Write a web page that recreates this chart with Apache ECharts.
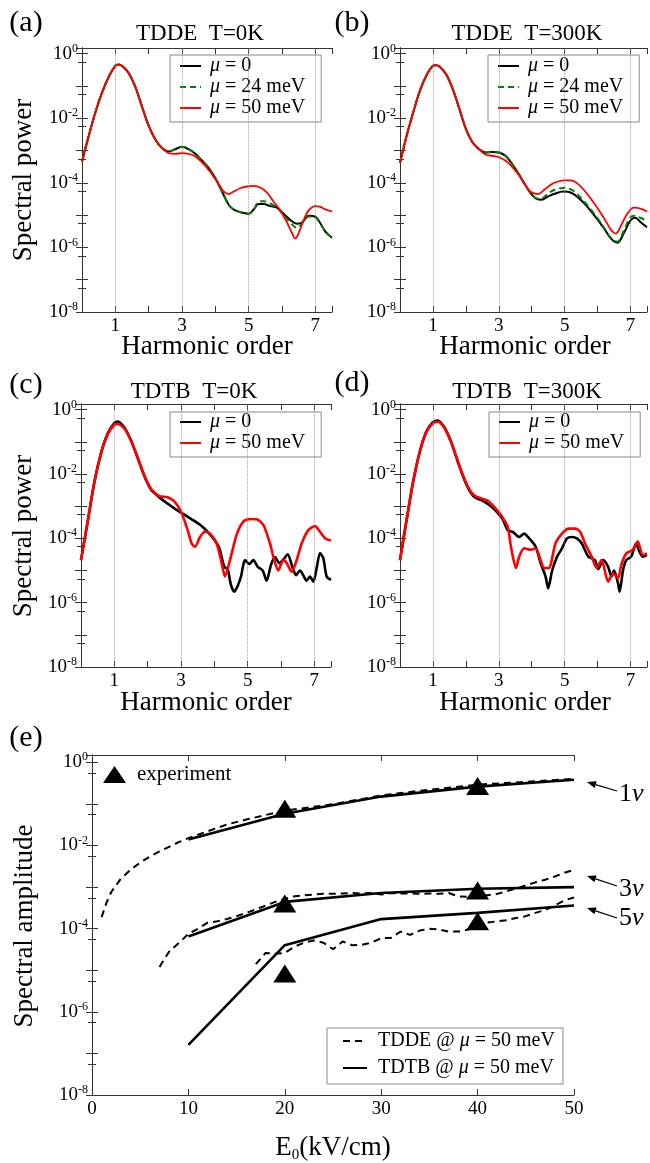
<!DOCTYPE html>
<html>
<head>
<meta charset="utf-8">
<script src="https://cdn.jsdelivr.net/npm/echarts@6/dist/echarts.min.js"></script>
<style>
  html, body { margin: 0; padding: 0; background: #fff; }
  #chart { width: 650px; height: 1163px; }
</style>
</head>
<body>
<div id="chart"></div>
<script>
const SERIF = 'Liberation Serif';

// ---- (a) TDDE T=0K
const aX0 = [0,0.2,0.4,0.6,0.8,1.0,1.1,1.2,1.4,1.6,1.8,2.0,2.2,2.4,2.6,2.8,3.0,3.2,3.4,3.6,3.8,4.0,4.2,4.35,4.45,4.6,4.8,5.0,5.15,5.3,5.45,5.65,5.85,6.05,6.25,6.45,6.6,6.8,7.0,7.15,7.3,7.5];
const aMu0 = [4.6e-4,2.8e-3,1.5e-2,6.2e-2,0.19,0.42,0.46,0.42,0.25,9.3e-2,2.3e-2,5.9e-3,2.2e-3,1.2e-3,9.4e-4,1.1e-3,1.3e-3,1.1e-3,7.9e-4,4.9e-4,2.9e-4,1.4e-4,5.4e-5,2.6e-5,1.8e-5,1.4e-5,1.2e-5,1.1e-5,1.5e-5,2.2e-5,2.2e-5,1.9e-5,1.7e-5,1.1e-5,7.1e-6,5.4e-6,5.9e-6,9.5e-6,8.9e-6,5.6e-6,3.1e-6,2.0e-6];
const aMu24 = [4.6e-4,2.8e-3,1.5e-2,6.2e-2,0.19,0.42,0.46,0.42,0.25,9.3e-2,2.3e-2,5.9e-3,2.2e-3,1.2e-3,9.4e-4,1.1e-3,1.3e-3,1.1e-3,7.9e-4,4.9e-4,2.9e-4,1.4e-4,5.4e-5,2.6e-5,1.8e-5,1.4e-5,1.2e-5,1.1e-5,1.5e-5,2.6e-5,2.7e-5,2.3e-5,1.7e-5,1.0e-5,5.9e-6,4.0e-6,5.4e-6,9.0e-6,8.5e-6,5.4e-6,3.1e-6,2.0e-6];
const aX50 = [0,0.2,0.4,0.6,0.8,1.0,1.1,1.2,1.4,1.6,1.8,2.0,2.2,2.4,2.6,2.8,3.0,3.2,3.4,3.6,3.8,4.0,4.15,4.25,4.4,4.55,4.75,4.95,5.15,5.35,5.55,5.75,5.95,6.15,6.3,6.4,6.5,6.65,6.8,7.0,7.15,7.3,7.5];
const aMu50 = [4.6e-4,2.8e-3,1.5e-2,6.2e-2,0.19,0.42,0.46,0.42,0.25,9.3e-2,2.3e-2,5.9e-3,2.2e-3,1.2e-3,8.3e-4,7.9e-4,8.3e-4,7.9e-4,6.6e-4,4.3e-4,2.5e-4,1.3e-4,7.7e-5,5.4e-5,4.5e-5,5.4e-5,6.8e-5,7.7e-5,8.1e-5,7.2e-5,5.0e-5,2.6e-5,1.4e-5,5.9e-6,2.8e-6,1.9e-6,2.8e-6,7.1e-6,1.4e-5,1.9e-5,1.8e-5,1.5e-5,1.3e-5];

// ---- (b) TDDE T=300K
const bX0 = [0,0.2,0.4,0.6,0.8,1.0,1.1,1.2,1.4,1.6,1.8,2.0,2.2,2.4,2.6,2.8,3.0,3.2,3.4,3.6,3.8,4.0,4.15,4.3,4.5,4.7,4.95,5.1,5.3,5.6,5.9,6.2,6.4,6.6,6.8,7.0,7.15,7.3,7.5];
const bMu0 = [4.1e-4,2.8e-3,1.5e-2,6.9e-2,0.21,0.42,0.44,0.40,0.23,8.1e-2,2.0e-2,4.7e-3,1.8e-3,1.1e-3,8.7e-4,9.0e-4,8.7e-4,6.9e-4,3.9e-4,1.9e-4,8.7e-5,4.3e-5,3.2e-5,3.0e-5,3.8e-5,4.6e-5,5.4e-5,5.3e-5,4.3e-5,2.3e-5,9.8e-6,3.8e-6,1.9e-6,1.4e-6,2.8e-6,6.9e-6,8.3e-6,6.1e-6,4.2e-6];
const bMu24 = [4.1e-4,2.8e-3,1.5e-2,6.9e-2,0.21,0.42,0.44,0.40,0.23,8.1e-2,2.0e-2,4.7e-3,1.8e-3,1.1e-3,8.7e-4,9.0e-4,8.7e-4,6.9e-4,3.9e-4,1.9e-4,8.7e-5,4.3e-5,3.3e-5,3.3e-5,4.8e-5,6.1e-5,6.9e-5,6.7e-5,5.4e-5,2.6e-5,1.1e-5,4.0e-6,2.0e-6,1.5e-6,3.4e-6,8.7e-6,9.6e-6,8.3e-6,6.5e-6];
const bX50 = [0,0.2,0.4,0.6,0.8,1.0,1.1,1.2,1.4,1.6,1.8,2.0,2.2,2.4,2.6,2.8,3.0,3.2,3.4,3.6,3.8,3.95,4.1,4.2,4.4,4.6,4.8,5.0,5.2,5.4,5.6,5.9,6.2,6.4,6.55,6.7,6.9,7.1,7.3,7.5];
const bMu50 = [4.1e-4,2.8e-3,1.5e-2,6.9e-2,0.21,0.42,0.44,0.40,0.23,8.1e-2,2.0e-2,4.7e-3,1.8e-3,1.1e-3,7.4e-4,6.9e-4,6.2e-4,4.9e-4,3.2e-4,1.8e-4,8.7e-5,5.4e-5,4.6e-5,4.5e-5,6.3e-5,9.1e-5,1.1e-4,1.2e-4,1.2e-4,9.3e-5,5.8e-5,2.3e-5,7.9e-6,3.6e-6,2.7e-6,4.5e-6,1.1e-5,1.7e-5,1.6e-5,1.3e-5];

// ---- (c) TDTB T=0K
const cX0 = [0,0.2,0.4,0.6,0.8,1.0,1.1,1.3,1.5,1.7,1.9,2.1,2.3,2.4,2.6,2.8,3.0,3.2,3.4,3.6,3.8,4.0,4.15,4.3,4.4,4.5,4.6,4.7,4.8,4.92,5.05,5.17,5.3,5.45,5.57,5.7,5.82,5.95,6.1,6.2,6.35,6.45,6.57,6.67,6.77,6.87,6.97,7.07,7.17,7.27,7.37,7.5];
const cMu0 = [2.1e-5,3.3e-4,5.4e-3,4.4e-2,0.18,0.38,0.43,0.28,0.11,3.2e-2,8.7e-3,3.3e-3,2.1e-3,1.7e-3,1.2e-3,8.5e-4,6.3e-4,4.7e-4,3.5e-4,2.5e-4,1.6e-4,9.0e-5,4.9e-5,1.3e-5,1.1e-5,3.5e-6,2.2e-6,3.3e-6,6.5e-6,2.1e-5,1.6e-5,2.1e-5,1.3e-5,1.0e-5,4.8e-6,1.5e-5,2.6e-5,1.7e-5,2.4e-5,3.2e-5,1.2e-5,7.2e-6,1.0e-5,7.0e-6,4.8e-6,6.5e-6,4.5e-6,1.2e-5,3.5e-5,2.4e-5,6.5e-6,5.1e-6];
const cX50 = [0,0.2,0.4,0.6,0.8,1.0,1.1,1.3,1.5,1.7,1.9,2.1,2.3,2.4,2.6,2.8,3.0,3.2,3.32,3.42,3.57,3.72,3.87,4.07,4.22,4.32,4.47,4.67,4.87,5.07,5.27,5.47,5.67,5.77,5.92,6.07,6.17,6.32,6.47,6.62,6.82,7.02,7.17,7.32,7.5];
const cMu50 = [2.1e-5,3.3e-4,5.4e-3,4.4e-2,0.17,0.34,0.36,0.26,0.11,3.2e-2,9.0e-3,3.5e-3,2.2e-3,2.0e-3,1.9e-3,1.4e-3,6.8e-4,1.8e-4,6.9e-5,5.5e-5,1.1e-4,1.6e-4,1.4e-4,6.9e-5,1.7e-5,6.5e-6,2.1e-5,1.3e-4,3.3e-4,4.0e-4,3.9e-4,2.6e-4,6.9e-5,2.7e-5,1.0e-5,2.1e-5,1.7e-5,9.1e-6,2.1e-5,6.9e-5,1.8e-4,2.4e-4,1.6e-4,1.0e-4,8.5e-5];

// ---- (d) TDTB T=300K
const dX0 = [0,0.2,0.4,0.6,0.8,1.0,1.15,1.35,1.55,1.75,1.95,2.15,2.3,2.5,2.7,2.9,3.1,3.27,3.42,3.62,3.77,3.92,4.12,4.27,4.42,4.5,4.62,4.77,4.92,5.07,5.22,5.37,5.52,5.72,5.92,6.02,6.17,6.32,6.42,6.5,6.62,6.67,6.77,6.87,7.02,7.17,7.27,7.37,7.5];
const dMu0 = [2.1e-5,3.7e-4,5.8e-3,4.9e-2,0.21,0.41,0.46,0.28,0.10,2.5e-2,6.8e-3,2.6e-3,1.8e-3,1.5e-3,1.1e-3,7.3e-4,4.2e-4,1.8e-4,1.6e-4,1.1e-4,1.4e-4,1.0e-4,5.5e-5,1.7e-5,6.5e-6,2.8e-6,1.0e-5,2.7e-5,4.9e-5,1.0e-4,1.1e-4,1.0e-4,6.9e-5,2.7e-5,2.1e-5,1.1e-5,2.1e-5,1.3e-5,6.5e-6,1.0e-5,4.0e-6,2.2e-6,1.0e-5,2.1e-5,2.7e-5,6.9e-5,3.9e-5,2.7e-5,3.0e-5];
const dX50 = [0,0.2,0.4,0.6,0.8,1.0,1.15,1.35,1.55,1.75,1.95,2.15,2.3,2.5,2.7,2.9,3.1,3.27,3.37,3.52,3.62,3.77,3.97,4.12,4.27,4.37,4.52,4.72,4.92,5.12,5.32,5.47,5.62,5.82,5.97,6.12,6.32,6.47,6.62,6.72,6.87,7.07,7.22,7.37,7.5];
const dMu50 = [2.1e-5,3.7e-4,5.8e-3,4.9e-2,0.20,0.38,0.42,0.27,0.10,2.6e-2,7.2e-3,2.8e-3,2.0e-3,1.7e-3,1.4e-3,8.5e-4,4.7e-4,2.3e-4,5.5e-5,1.2e-5,2.7e-5,4.9e-5,4.4e-5,4.9e-5,2.1e-5,1.2e-5,1.2e-5,6.9e-5,1.4e-4,2.0e-4,2.0e-4,1.6e-4,6.9e-5,2.7e-5,1.2e-5,2.1e-5,4.5e-6,8.1e-6,5.8e-6,1.5e-5,3.4e-5,4.4e-5,7.9e-5,3.0e-5,3.4e-5];

// ---- (e) amplitude vs field
const eX = [10, 20, 30, 40, 50];
const tdtb1 = [1.4e-2, 5.8e-2, 0.15, 0.26, 0.38];
const tdtb3 = [6.5e-5, 4.4e-4, 7.2e-4, 9.1e-4, 1.0e-3];
const tdtb5 = [1.6e-7, 4.0e-5, 1.7e-4, 2.4e-4, 3.6e-4];
const tdde1X = [1,1.5,2,3,4,5,6,7,8,9,10,12,14,16,18,20,25,30,35,40,45,50];
const tdde1 = [1.9e-4,4.2e-4,7.6e-4,1.6e-3,2.6e-3,3.9e-3,5.4e-3,7.2e-3,9.3e-3,1.2e-2,1.5e-2,2.2e-2,3.2e-2,4.2e-2,5.4e-2,6.9e-2,9.8e-2,0.16,0.22,0.29,0.34,0.40];
const tdde3X = [7,8,9,10,11,12,13,14,15,16,17,18,19,20,21,22,23,24,25,26,27,28,29,30,31,32,33,34,35,36,37,38,39,40,41,42,43,44,45,46,47,48,49,50];
const tdde3 = [1.2e-5,2.8e-5,4.5e-5,7.5e-5,1.0e-4,1.4e-4,1.5e-4,1.7e-4,2.0e-4,2.4e-4,2.9e-4,3.6e-4,4.4e-4,5.2e-4,6.0e-4,6.3e-4,6.6e-4,6.9e-4,6.9e-4,7.0e-4,7.2e-4,7.0e-4,7.2e-4,6.6e-4,7.2e-4,7.0e-4,7.0e-4,6.9e-4,7.0e-4,6.9e-4,7.2e-4,6.0e-4,5.8e-4,6.0e-4,6.4e-4,6.8e-4,8.0e-4,9.2e-4,1.1e-3,1.3e-3,1.5e-3,1.8e-3,2.2e-3,2.6e-3];
const tdde5X = [17,18,19,20,21,22,23,24,25,26,27,28,29,30,31,32,33,34,35,36,37,38,39,40,41,42,43,44,45,46,47,48,49,50];
const tdde5 = [1.4e-5,2.6e-5,2.5e-5,2.6e-5,3.7e-5,4.6e-5,5.2e-5,4.6e-5,3.2e-5,4.9e-5,4.0e-5,4.1e-5,4.6e-5,5.9e-5,6.0e-5,8.5e-5,7.1e-5,9.0e-5,1.0e-4,9.5e-5,8.5e-5,8.5e-5,9.5e-5,1.2e-4,1.4e-4,1.5e-4,1.6e-4,1.8e-4,2.0e-4,2.4e-4,2.8e-4,3.6e-4,4.8e-4,5.6e-4];
const expX = [20, 40];
const exp1 = [7.6e-2, 0.27];
const exp3 = [4.0e-4, 8.3e-4];
const exp5 = [8.3e-6, 1.5e-4];

const gridX = [1, 3, 5, 7];

const pairs = (xs, ys) => xs.map((x, i) => [x, ys[i]]);

const chart = echarts.init(document.getElementById('chart'), null, { renderer: 'canvas' });

const grids = [
  { left: 82, top: 48, width: 250, height: 264 },
  { left: 400, top: 48, width: 249, height: 264 },
  { left: 81, top: 404, width: 250, height: 263 },
  { left: 400, top: 404, width: 249, height: 263 },
  { left: 92, top: 755, width: 482, height: 340 },
];

const frame = { show: true, lineStyle: { color: '#333', width: 1 } };
const ticks = { show: true, inside: true, length: 6, lineStyle: { color: '#333' } };

const powRich = {
  b: { fontFamily: SERIF, fontSize: 19, color: '#000', lineHeight: 22 },
  s: { fontFamily: SERIF, fontSize: 12, color: '#000', lineHeight: 12, verticalAlign: 'top' },
};
function powLabel(v) {
  const l = Math.log10(v), e = Math.round(l);
  if (Math.abs(l - e) > 0.01 || e % 2 !== 0) return '';
  return '{b|10}{s|' + e + '}';
}

const xAxis = [], yAxis = [];
grids.forEach((g, i) => {
  const isE = i === 4;
  const xBase = {
    type: 'value', gridIndex: i, min: 0, max: isE ? 50 : 7.5, interval: isE ? 10 : 1,
    axisLine: frame, axisTick: ticks, splitLine: { show: false },
  };
  xAxis.push(Object.assign({}, xBase, {
    position: 'bottom',
    axisLabel: {
      margin: 5, fontFamily: SERIF, fontSize: 19, color: '#000',
      formatter: isE ? (v => (v % 10 === 0 ? String(v) : '')) : (v => (v % 2 === 1 ? String(v) : '')),
    },
  }));
  xAxis.push(Object.assign({}, xBase, { position: 'top', axisLabel: { show: false } }));
  const yBase = {
    type: 'log', logBase: 10, gridIndex: i, min: 1e-8, max: 1.5,
    axisLine: frame, axisTick: ticks, splitLine: { show: false },
    minorTick: { show: true, splitNumber: 2, length: 4, lineStyle: { color: '#333' } },
  };
  yAxis.push(Object.assign({}, yBase, {
    position: 'left',
    axisLabel: { margin: 4, formatter: powLabel, rich: powRich, showMaxLabel: false },
  }));
  yAxis.push(Object.assign({}, yBase, { position: 'right', axisLabel: { show: false } }));
});

function line(gi, name, xs, ys, color, width, dash, smooth) {
  return {
    type: 'line', name, xAxisIndex: 2 * gi, yAxisIndex: 2 * gi,
    data: pairs(xs, ys), symbol: 'none', smooth: smooth,
    lineStyle: { color, width, type: dash || 'solid' }, itemStyle: { color },
    emphasis: { disabled: true }, z: 3,
  };
}
function gridLines(gi) {
  return {
    type: 'line', xAxisIndex: 2 * gi, yAxisIndex: 2 * gi, data: [], z: 1, silent: true,
    markLine: {
      silent: true, symbol: 'none', label: { show: false },
      lineStyle: { type: 'dotted', color: '#888', width: 0.8 },
      data: gridX.map(x => ({ xAxis: x })),
    },
  };
}

const M0 = 'μ = 0', M24 = 'μ = 24 meV', M50 = 'μ = 50 meV';
// thicker TDTB curves get their own legend names
const N0 = 'μ = 0 ', N50 = 'μ = 50 meV ';
const DDE = 'TDDE @ μ = 50 meV', DTB = 'TDTB @ μ = 50 meV';

const series = [
  gridLines(0), gridLines(1), gridLines(2), gridLines(3),
  line(0, M0, aX0, aMu0, '#000', 2, null, 0.35),
  line(0, M24, aX0, aMu24, '#008000', 2, [6, 4], 0.35),
  line(0, M50, aX50, aMu50, '#ff0000', 1.8, null, 0.35),
  line(1, M0, bX0, bMu0, '#000', 2, null, 0.35),
  line(1, M24, bX0, bMu24, '#008000', 2, [6, 4], 0.35),
  line(1, M50, bX50, bMu50, '#ff0000', 1.8, null, 0.35),
  line(2, N0, cX0, cMu0, '#000', 2.6, null, 0.25),
  line(2, N50, cX50, cMu50, '#ff0000', 2.6, null, 0.25),
  line(3, N0, dX0, dMu0, '#000', 2.6, null, 0.25),
  line(3, N50, dX50, dMu50, '#ff0000', 2.6, null, 0.25),
  line(4, DDE, tdde1X, tdde1, '#000', 2, [7, 5], false),
  line(4, DDE, tdde3X, tdde3, '#000', 2, [7, 5], false),
  line(4, DDE, tdde5X, tdde5, '#000', 2, [7, 5], false),
  line(4, DTB, eX, tdtb1, '#000', 2.6, null, false),
  line(4, DTB, eX, tdtb3, '#000', 2.6, null, false),
  line(4, DTB, eX, tdtb5, '#000', 2.6, null, false),
];
[exp1, exp3, exp5].forEach(ys => series.push({
  type: 'scatter', name: 'experiment', xAxisIndex: 8, yAxisIndex: 8,
  data: pairs(expX, ys), symbol: 'triangle', symbolSize: [23, 18],
  itemStyle: { color: '#000', opacity: 1 }, z: 5,
}));

const legRich = {
  t: { fontFamily: SERIF, fontSize: 20, color: '#000', lineHeight: 20 },
  i: { fontFamily: SERIF, fontSize: 20, color: '#000', lineHeight: 20, fontStyle: 'italic' },
};
function muText(name) {
  const t = name.trim(), k = t.indexOf('μ');
  let s = '';
  if (k > 0) s += '{t|' + t.slice(0, k) + '}';
  s += '{i|μ}{t|' + t.slice(k + 1) + '}';
  return s;
}
function boxLegend(left, top, data, pad) {
  return {
    orient: 'vertical', left, top, data, formatter: muText,
    itemWidth: 21, itemHeight: 10, itemGap: 1, padding: pad,
    itemStyle: { opacity: 0 },
    backgroundColor: '#fff', borderColor: '#888', borderWidth: 1, borderRadius: 0,
    textStyle: { rich: legRich, padding: [0, 0, 0, 4] }, selectedMode: false,
  };
}
const legend = [
  boxLegend(170, 55, [M0, M24, M50], [1, 16, 4, 9]),
  boxLegend(488, 55, [M0, M24, M50], [1, 16, 4, 9]),
  boxLegend(170, 412, [N0, N50], [0, 16, 4, 9]),
  boxLegend(489, 412, [N0, N50], [0, 16, 4, 9]),
  {
    orient: 'vertical', left: 327, top: 1028, data: [DDE, DTB], formatter: muText,
    itemWidth: 24, itemHeight: 10, itemGap: 7, padding: [3, 8, 6, 15],
    itemStyle: { opacity: 0 },
    backgroundColor: '#fff', borderColor: '#888', borderWidth: 1, selectedMode: false,
    textStyle: { padding: [0, 0, 0, 6], rich: {
      t: { fontFamily: SERIF, fontSize: 20, color: '#000', lineHeight: 22 },
      i: { fontFamily: SERIF, fontSize: 20, color: '#000', lineHeight: 22, fontStyle: 'italic' },
    } },
  },
  {
    left: 103, top: 764, data: ['experiment'], itemWidth: 23, itemHeight: 17, padding: 0,
    selectedMode: false, itemStyle: { opacity: 1 },
    textStyle: { fontFamily: SERIF, fontSize: 21, color: '#000', padding: [0, 0, 0, 6] },
  },
];

// text labels and arrows
function txt(x, y, text, size, extra) {
  return Object.assign({
    type: 'text', x, y,
    style: { text, fontFamily: SERIF, fontSize: size, fill: '#000', align: 'center', verticalAlign: 'middle' },
  }, extra || {});
}
function vtxt(x, y, text) {
  return txt(x, y, text, 27, { rotation: Math.PI / 2 });
}
function arrow(x1, y1, x2, y2) {
  const a = Math.atan2(y1 - y2, x1 - x2), L = 9, W = 3.5;
  const bx = x1 - L * Math.cos(a), by = y1 - L * Math.sin(a);
  return [
    { type: 'line', shape: { x1: bx, y1: by, x2, y2 }, style: { stroke: '#000', lineWidth: 1.3 } },
    { type: 'polygon', shape: { points: [[x1, y1], [bx - W * Math.sin(a), by + W * Math.cos(a)], [bx + W * Math.sin(a), by - W * Math.cos(a)]] }, style: { fill: '#000' } },
  ];
}
const nuRich = {
  n: { fontFamily: SERIF, fontSize: 26, color: '#000' },
  v: { fontFamily: SERIF, fontSize: 26, color: '#000', fontStyle: 'italic' },
};
function nuLabel(x, y, k) {
  return { type: 'text', x, y, style: { text: '{n|' + k + '}{v|ν}', rich: nuRich, align: 'left', verticalAlign: 'middle' } };
}

const graphic = [
  txt(26, 23, '(a)', 30), txt(352, 23, '(b)', 30),
  txt(26, 385, '(c)', 30), txt(352, 383, '(d)', 30), txt(26, 738, '(e)', 30),
  txt(200, 34, 'TDDE  T=0K', 23), txt(527, 34, 'TDDE  T=300K', 23),
  txt(194, 392, 'TDTB  T=0K', 23), txt(527, 392, 'TDTB  T=300K', 23),
  vtxt(24, 180, 'Spectral power'), vtxt(24, 536, 'Spectral power'),
  vtxt(25, 926, 'Spectral amplitude'),
  txt(207, 347, 'Harmonic order', 27), txt(525, 347, 'Harmonic order', 27),
  txt(206, 703, 'Harmonic order', 27), txt(525, 703, 'Harmonic order', 27),
  { type: 'text', x: 333, y: 1148, style: {
    text: '{e|E}{s|0}{e|(kV/cm)}', align: 'center', verticalAlign: 'middle',
    rich: {
      e: { fontFamily: SERIF, fontSize: 27, color: '#000', lineHeight: 30 },
      s: { fontFamily: SERIF, fontSize: 15, color: '#000', lineHeight: 14, verticalAlign: 'bottom' },
    },
  } },
  ...arrow(587, 782, 617, 791), nuLabel(619, 794, 1),
  ...arrow(587, 876, 617, 886), nuLabel(619, 889, 3),
  ...arrow(587, 908, 617, 918), nuLabel(619, 918, 5),
];

chart.setOption({
  animation: false,
  backgroundColor: '#fff',
  grid: grids.map(g => Object.assign({ containLabel: false }, g)),
  xAxis, yAxis, series, legend, graphic,
});
</script>
</body>
</html>
